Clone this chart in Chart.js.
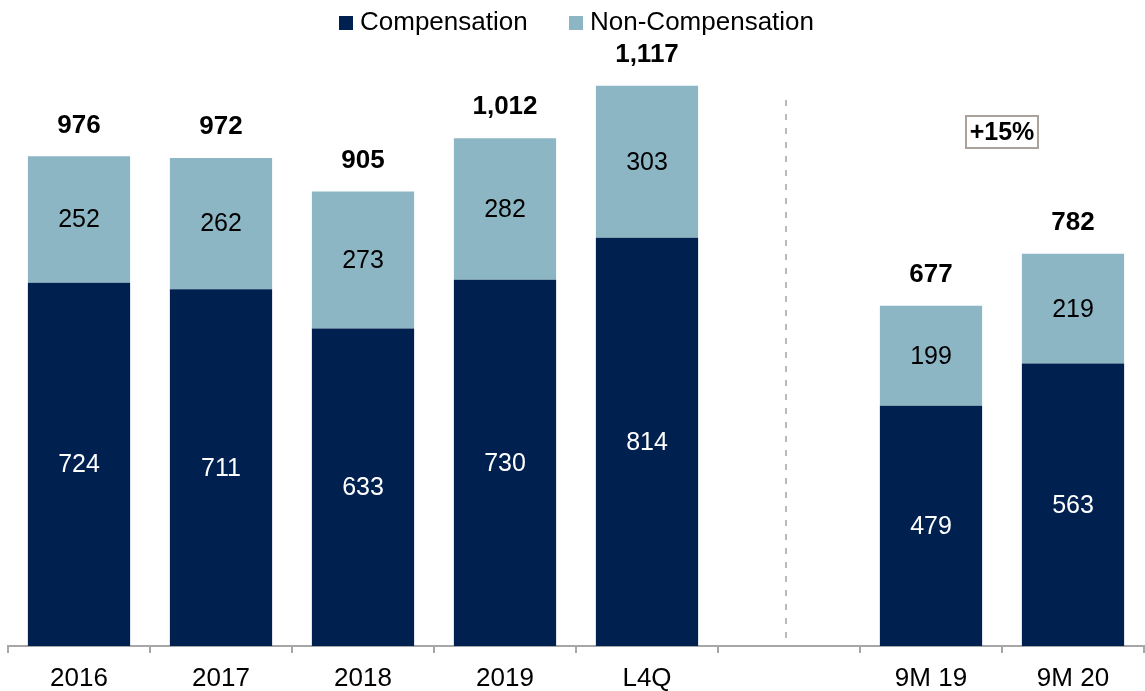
<!DOCTYPE html>
<html>
<head>
<meta charset="utf-8">
<script src="https://cdn.jsdelivr.net/npm/chart.js@4.4.0/dist/chart.umd.min.js"></script>
<style>
  html, body { margin: 0; padding: 0; background: #fff; }
  #wrap { width: 1145px; height: 691px; }
</style>
</head>
<body>
<div id="wrap"><canvas id="grafico" width="1145" height="691"></canvas></div>
<script>
const categorias = ["2016", "2017", "2018", "2019", "L4Q", "", "9M 19", "9M 20"];
const compensacion = [724, 711, 633, 730, 814, null, 479, 563];
const noCompensacion = [252, 262, 273, 282, 303, null, 199, 219];
const totales = ["976", "972", "905", "1,012", "1,117", "", "677", "782"];
const crecimiento = "+15%";

const fuente = "'Liberation Sans', Arial, sans-serif";
const colores = ["#00214F", "#8DB6C5"];

// Leyenda, etiquetas, línea punteada y caja de crecimiento
const extras = {
  id: "extras",
  afterDatasetsDraw(chart) {
    const c = chart.ctx;
    const x = chart.scales.x;
    const y = chart.scales.y;
    c.save();
    c.textBaseline = "middle";

    // leyenda
    c.font = "26px " + fuente;
    c.textAlign = "left";
    const posLeyenda = [339, 569];
    chart.data.datasets.forEach((ds, k) => {
      c.fillStyle = colores[k];
      c.fillRect(posLeyenda[k], 16, 14, 14);
      c.fillStyle = "#000";
      c.fillText(ds.label, posLeyenda[k] + 21, 23);
    });

    c.textAlign = "center";
    categorias.forEach((cat, i) => {
      if (compensacion[i] == null) return;
      const cx = x.getPixelForValue(i);
      const base = y.getPixelForValue(0);
      const yc = y.getPixelForValue(compensacion[i]);
      const yt = y.getPixelForValue(compensacion[i] + noCompensacion[i]);
      c.font = "25px " + fuente;
      c.fillStyle = "#ffffff";
      c.fillText(String(compensacion[i]), cx, (base + yc) / 2 + 1);
      c.fillStyle = "#000000";
      c.fillText(String(noCompensacion[i]), cx, (yc + yt) / 2 + 1);
      c.font = "bold 26px " + fuente;
      c.fillText(totales[i], cx, yt - 31);
    });

    // línea punteada
    const lx = x.getPixelForValue(5) - 3;
    c.strokeStyle = "#aaa39c";
    c.lineWidth = 1.5;
    c.setLineDash([6, 8]);
    c.beginPath();
    c.moveTo(lx, 100);
    c.lineTo(lx, y.getPixelForValue(0));
    c.stroke();
    c.setLineDash([]);

    // caja +15%
    const bx = (x.getPixelForValue(6) + x.getPixelForValue(7)) / 2;
    c.strokeStyle = "#aaa39c";
    c.lineWidth = 2;
    c.strokeRect(bx - 36, 116, 72, 32);
    c.fillStyle = "#000";
    c.font = "bold 25px " + fuente;
    c.fillText(crecimiento, bx, 133);
    c.restore();
  }
};

const ctx = document.getElementById("grafico").getContext("2d");
const chart = new Chart(ctx, {
  type: "bar",
  data: {
    labels: categorias,
    datasets: [
      {
        label: "Compensation",
        data: compensacion,
        backgroundColor: colores[0],
        categoryPercentage: 0.72,
        barPercentage: 1
      },
      {
        label: "Non-Compensation",
        data: noCompensacion,
        backgroundColor: colores[1],
        categoryPercentage: 0.72,
        barPercentage: 1
      }
    ]
  },
  options: {
    responsive: false,
    animation: false,
    layout: { padding: { left: 8, right: 1, top: 44, bottom: 0 } },
    plugins: {
      legend: { display: false },
      tooltip: { enabled: false }
    },
    scales: {
      x: {
        stacked: true,
        offset: true,
        afterFit: (scale) => { scale.height = 45; },
        grid: {
          offset: true,
          drawOnChartArea: false,
          drawTicks: true,
          tickLength: 7,
          color: "#a6a6a6",
          lineWidth: 2
        },
        border: { color: "#a6a6a6", width: 2 },
        ticks: {
          color: "#000",
          padding: 10,
          maxRotation: 0,
          font: { size: 26, family: fuente }
        }
      },
      y: {
        stacked: true,
        display: false,
        min: 0,
        max: 1200
      }
    }
  },
  plugins: [extras]
});
</script>
</body>
</html>
